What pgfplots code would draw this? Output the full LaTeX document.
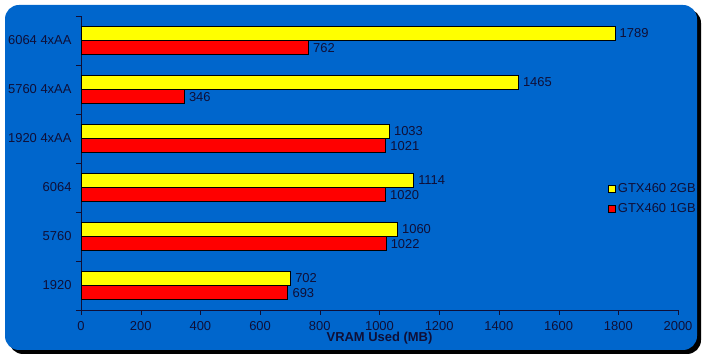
\documentclass[border=0pt]{standalone}
\usepackage{pgfplots}
\pgfplotsset{compat=1.18}
\usepackage{fontspec}
\setmainfont{Liberation Sans}
\definecolor{bg}{RGB}{0,102,204}
\definecolor{tx}{RGB}{15,15,55}
\definecolor{ybar}{RGB}{255,255,0}
\definecolor{rbar}{RGB}{255,0,0}
\begin{document}
\begin{tikzpicture}
\useasboundingbox (0bp,0bp) rectangle (704bp,357bp);
\fill[black, rounded corners=14bp] (9bp,3bp) rectangle (701bp,348bp);
\fill[bg, rounded corners=14bp] (5bp,7bp) rectangle (697bp,352bp);
\begin{axis}[
  at={(81bp,47bp)}, anchor=south west,
  scale only axis, width=597bp, height=294bp,
  xmin=0, xmax=2000, ymin=-0.5, ymax=5.5,
  axis lines=left, axis line style={-, draw=tx},
  tick align=outside,
  major tick length=5bp,
  tick style={draw=tx},
  xtick={0,200,...,2000},
  ytick={-0.5,0.5,...,5.5}, yticklabels={},
  extra y ticks={0,1,2,3,4,5},
  extra y tick labels={1920,5760,6064,1920 4xAA,5760 4xAA,6064 4xAA},
  extra y tick style={major tick length=0pt},
  /pgf/number format/assume math mode=true,
  /pgf/number format/1000 sep={},
  ticklabel style={font=\fontsize{13}{15}\selectfont, text=tx},
  yticklabel style={xshift=-6bp},
  xticklabel style={yshift=-3bp},
  xlabel={\textbf{VRAM Used (MB)}},
  xlabel style={at={(rel axis cs:0.5,0)}, anchor=center, yshift=-28bp, font=\fontsize{13}{15}\selectfont, text=tx},
  xbar, bar width=0.29,
  nodes near coords,
  every node near coord/.append style={font=\fontsize{13}{15}\selectfont, text=tx, xshift=1bp},
  legend style={at={(rel axis cs:0.878,0.378)}, anchor=west, draw=none, fill=none,
    font=\fontsize{13}{15}\selectfont, text=tx, row sep=5bp},
  legend cell align=left,
  legend image code/.code={\draw[#1, draw=black, line width=0.6bp] (0bp,-3.5bp) rectangle (7bp,3.5bp);},
]
\addplot[draw=black, line width=0.8bp, fill=ybar, bar shift=0.145] coordinates {
  (702,0) (1060,1) (1114,2) (1033,3) (1465,4) (1789,5)};
\addlegendentry{GTX460 2GB}
\addplot[draw=black, line width=0.8bp, fill=rbar, bar shift=-0.145] coordinates {
  (693,0) (1022,1) (1020,2) (1021,3) (346,4) (762,5)};
\addlegendentry{GTX460 1GB}
\end{axis}
\end{tikzpicture}
\end{document}
